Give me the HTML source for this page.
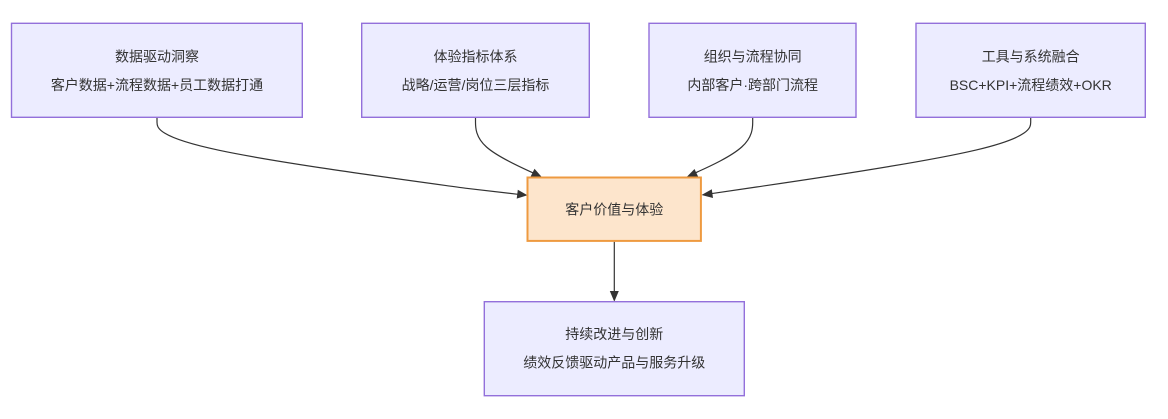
<!DOCTYPE html>
<html>
<head>
<meta charset="utf-8">
<style>
  html, body { margin:0; padding:0; background:#ffffff; }
  body { width:1168px; height:419px; overflow:hidden; }
  svg { display:block; }
  text { font-family: "Liberation Sans", "Noto Sans CJK SC", "WenQuanYi Zen Hei", sans-serif; font-size:14px; fill:#333333; }
</style>
</head>
<body>
<svg width="1168" height="419" viewBox="0 0 1168 419" xmlns="http://www.w3.org/2000/svg">
  <!-- connectors -->
  <g fill="none" stroke="#333333" stroke-width="1.2">
    <path d="M157,117.3 L157,122.3 C157,127.2 157,137.1 218.7,150.2 C280.3,163.3 403.7,179.7 465.3,188.2 L518,194.3"/>
    <path d="M475.5,117.3 L475.5,122.3 C475.5,127.2 475.5,137.1 486.5,147 C497.6,156.9 519.6,166.8 530.7,171.8 L534,173.3"/>
    <path d="M752.7,117.3 L752.7,122.3 C752.7,127.2 752.7,137.1 741.7,147 C730.7,156.9 708.7,166.8 697.7,171.8 L694.5,173.3"/>
    <path d="M1030.7,117.3 L1030.7,122.3 C1030.7,127.2 1030.7,137.1 975.9,150.05 C921,163 811.4,179 756.5,187 L711,193.7"/>
    <path d="M614.3,241.7 L614.3,292"/>
  </g>
  <!-- arrowheads -->
  <g fill="#333333">
    <polygon points="527.5,195.2 516.7,198.6 517.8,189.8"/>
    <polygon points="542,177.2 530.6,176.6 534.5,168.8"/>
    <polygon points="686.4,177.2 694.5,169 698.2,176.8"/>
    <polygon points="701.5,195 711.8,189.2 713,198"/>
    <polygon points="614.3,301.7 609.8,291 618.8,291"/>
  </g>

  <!-- top row boxes -->
  <g fill="#ECECFF" stroke="#9370DB" stroke-width="1.4">
    <rect x="11.5" y="23.3" width="290.8" height="94"/>
    <rect x="361.7" y="23.3" width="227.6" height="94"/>
    <rect x="649" y="23.3" width="207" height="94"/>
    <rect x="916" y="23.3" width="229.3" height="94"/>
    <rect x="484.3" y="301.7" width="260" height="94"/>
  </g>
  <rect x="527.5" y="177.5" width="173.4" height="63.4" fill="#FDE5CC" stroke="#EE9A40" stroke-width="2"/>

  <!-- labels -->
  <g text-anchor="middle" dominant-baseline="central">
    <text x="157" y="56.5">数据驱动洞察</text>
    <text x="157" y="85">客户数据+流程数据+员工数据打通</text>

    <text x="475.5" y="56.5">体验指标体系</text>
    <text x="475.5" y="85">战略/运营/岗位三层指标</text>

    <text x="752.7" y="56.5">组织与流程协同</text>
    <text x="752.7" y="85">内部客户·跨部门流程</text>

    <text x="1030.7" y="56.5">工具与系统融合</text>
    <text x="1030.7" y="85">BSC+KPI+流程绩效+OKR</text>

    <text x="614.3" y="209.5">客户价值与体验</text>

    <text x="614.3" y="334">持续改进与创新</text>
    <text x="614.3" y="362.5">绩效反馈驱动产品与服务升级</text>
  </g>
</svg>
</body>
</html>
